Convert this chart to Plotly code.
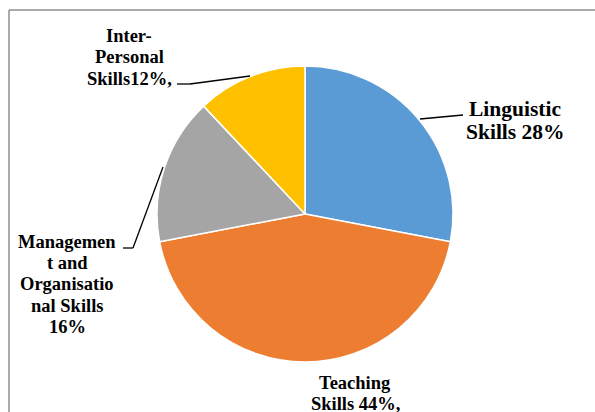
import plotly.graph_objects as go

W, H = 595, 412

# Data
categories = ["Linguistic Skills", "Teaching Skills", "Management and Organisational Skills", "Inter-Personal Skills"]
values = [28, 44, 16, 12]
colors = ["#5B9BD5", "#ED7D31", "#A5A5A5", "#FFC000"]

# Label text lines (as printed in the chart)
label_lines = {
    "Linguistic Skills": ["Linguistic", "Skills 28%"],
    "Teaching Skills": ["Teaching", "Skills 44%,"],
    "Management and Organisational Skills": ["Managemen", "t and", "Organisatio", "nal Skills", "16%"],
    "Inter-Personal Skills": ["Inter-", "Personal", "Skills12%,"],
}

# layout (label centre x, first baseline y, line spacing, font size) in pixels
label_layout = {
    "Linguistic Skills": (515, 116, 23, 21.5),
    "Teaching Skills": (355, 389, 21.5, 18.5),
    "Management and Organisational Skills": (67, 248, 21.3, 18.5),
    "Inter-Personal Skills": (129, 42, 21.5, 18.5),
}
leaders = [
    [(420, 119), (463, 115)],
    [(250, 76), (190, 84), (177, 84)],
    [(163, 167), (133, 248), (123, 248)],
]

def px(x, y):
    return x / W, 1 - y / H

cx, cy, r = 305, 214, 148
fig = go.Figure(go.Pie(
    labels=categories, values=values, sort=False, direction="clockwise", rotation=0,
    marker=dict(colors=colors, line=dict(color="white", width=1.5)),
    textinfo="none", hoverinfo="label+percent", showlegend=False,
    domain=dict(x=[(cx - r) / W, (cx + r) / W], y=[1 - (cy + r) / H, 1 - (cy - r) / H]),
))

annotations = []
for cat in categories:
    x0, b0, sp, fs = label_layout[cat]
    for i, line in enumerate(label_lines[cat]):
        xp, yp = px(x0, b0 + i * sp - 0.3375 * fs)
        annotations.append(dict(x=xp, y=yp, xref="paper", yref="paper", text="<b>%s</b>" % line,
                                showarrow=False, xanchor="center", yanchor="middle", borderpad=0,
                                font=dict(family="Liberation Serif", size=fs, color="black")))

shapes = []
for pts in leaders:
    for (a, b) in zip(pts[:-1], pts[1:]):
        x0, y0 = px(*a)
        x1, y1 = px(*b)
        shapes.append(dict(type="line", xref="paper", yref="paper", x0=x0, y0=y0, x1=x1, y1=y1,
                           line=dict(color="black", width=1.3)))
# chart frame (top and left borders visible)
for (a, b) in [((9, 10), (W + 5, 10)), ((9, 10), (9, H + 5))]:
    x0, y0 = px(*a)
    x1, y1 = px(*b)
    shapes.append(dict(type="line", xref="paper", yref="paper", x0=x0, y0=y0, x1=x1, y1=y1,
                       line=dict(color="#8f8f8f", width=1.5)))

fig.update_layout(width=W, height=H, margin=dict(l=0, r=0, t=0, b=0),
                  paper_bgcolor="white", plot_bgcolor="white",
                  font=dict(family="Liberation Serif"),
                  annotations=annotations, shapes=shapes)
fig.write_html("out.html")
